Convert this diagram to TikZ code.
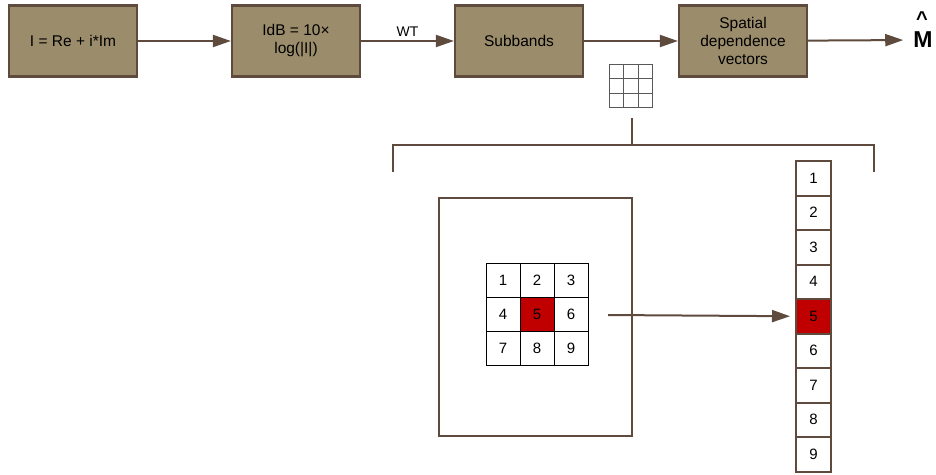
\documentclass[tikz,border=0pt]{standalone}
\usepackage{fontspec}
\setmainfont{Liberation Sans}
\usetikzlibrary{arrows.meta}
\definecolor{boxfill}{HTML}{9B8D6B}
\definecolor{brownline}{HTML}{5E4B3E}
\definecolor{cellred}{HTML}{C00000}
\tikzset{
	stage/.style={draw=brownline, line width=2.2pt, fill=boxfill, minimum width=128pt,
		minimum height=71pt, align=center, font=\fontsize{15.5}{18}\selectfont},
	flow/.style={draw=brownline, line width=2pt, -{Triangle[length=18pt,width=12pt]}},
	cell/.style={draw=black, line width=0.9pt, minimum size=34pt, inner sep=0pt,
		font=\fontsize{15}{17}\selectfont},
	vcell/.style={draw=brownline, line width=2pt, minimum width=35pt, minimum height=34.5pt,
		inner sep=0pt, fill=white, font=\fontsize{15}{17}\selectfont},
}
\begin{document}
\begin{tikzpicture}[x=1pt, y=-1pt]
	\useasboundingbox (0,0) rectangle (936,474);
	% processing chain
	\node[stage] (cplx) at (73,41) {I = Re + i*Im};
	\node[stage] (log) at (296,41) {IdB = 10×\\log(|I|)};
	\node[stage] (sub) at (519,41) {Subbands};
	\node[stage] (sdv) at (743,41) {Spatial\\dependence\\vectors};
	\node[font=\fontsize{23}{25}\selectfont\bfseries, inner sep=0pt] (mhat) at (923,40) {M};
	\node[font=\fontsize{20}{22}\selectfont\bfseries, inner sep=0pt] (hat) at (922,19) {\^{}};
	\draw[flow] (cplx) -- (log);
	\draw[flow] (log) -- node[above, font=\fontsize{14}{16}\selectfont] {WT} (sub);
	\draw[flow] (sub) -- (sdv);
	\draw[flow, shorten >=10pt] (sdv) -- (mhat.west);
	% small window icon
	\begin{scope}[shift={(609,64)}]
		\draw[gray!70!black, line width=0.8pt, step=14.5pt] (0,0) grid (43.5,43.5);
	\end{scope}
	\coordinate (top) at (632,118);
	\coordinate (mid) at (632,145);
	\draw[brownline, line width=2pt] (top) -- (mid);
	\draw[brownline, line width=2pt] (393,172) -- (393,145) -- (874,145) -- (874,172);
	% image with 3x3 neighbourhood
	\node[draw=brownline, line width=2pt, minimum width=193pt, minimum height=238pt] (img) at (535.5,317) {};
	\foreach \n in {1,...,9} {
		\pgfmathtruncatemacro{\r}{int((\n-1)/3)}
		\pgfmathtruncatemacro{\c}{mod(\n-1,3)}
		\node[cell] (g\n) at (503+34*\c, 280+34*\r) {\n};
	}
	\node[cell, fill=cellred] at (g5) {5};
	% feature vector
	\foreach \n in {1,...,9} {
		\node[vcell] (v\n) at (813.5, 178.25+34.5*\n-34.5) {\n};
	}
	\node[vcell, fill=cellred] at (v5) {5};
	\coordinate (src) at (608,315);
	\draw[flow, shorten >=5pt] (src) -- (v5.west);
\end{tikzpicture}
\end{document}
